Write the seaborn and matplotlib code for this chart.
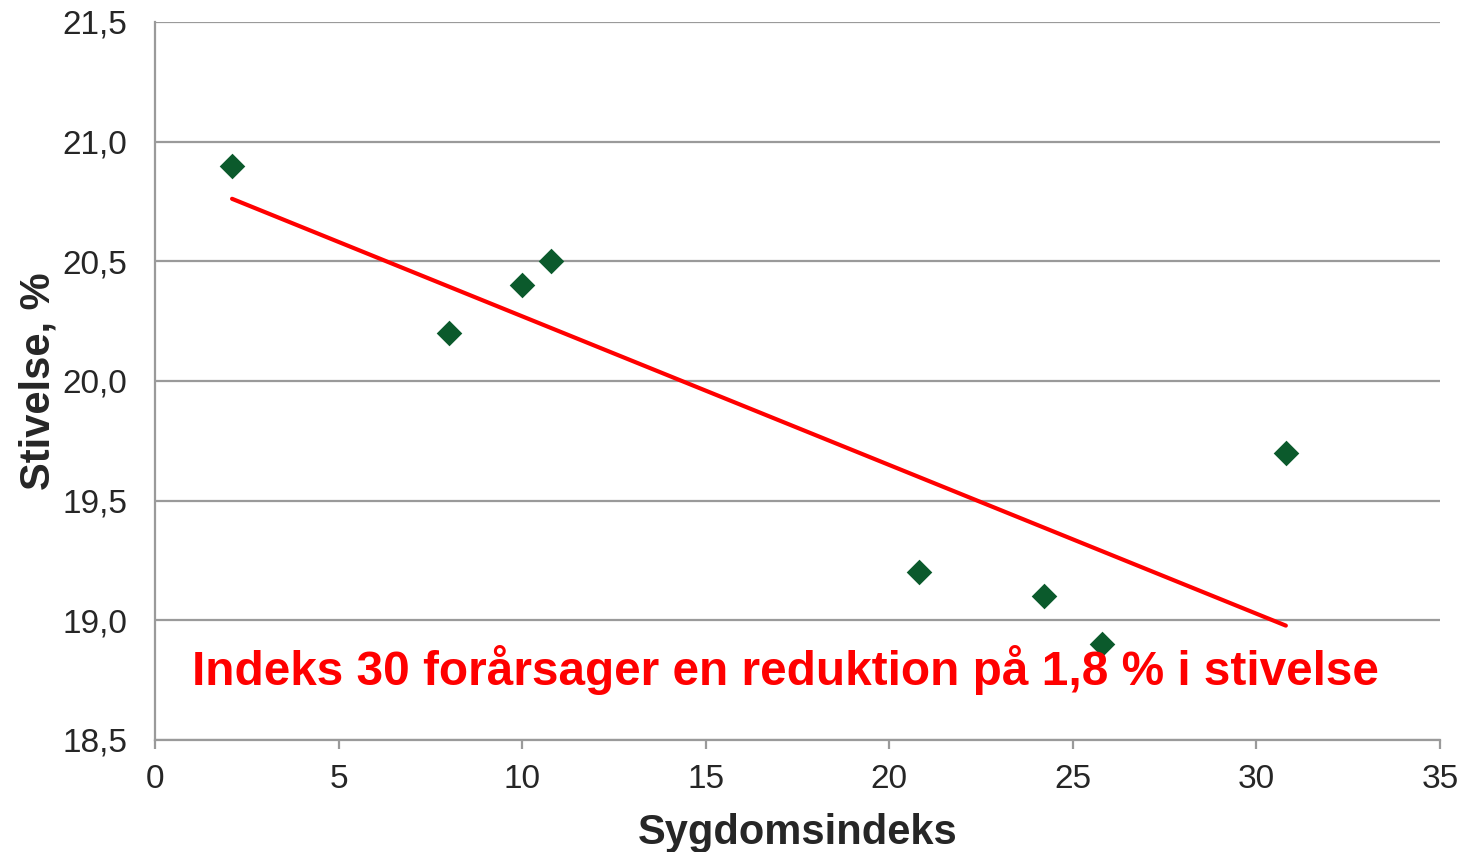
import matplotlib.pyplot as plt
from matplotlib.ticker import FuncFormatter
import seaborn as sns
import pandas as pd

# data
sygdomsindeks = [2.1, 8.0, 10.0, 10.8, 20.8, 24.2, 25.8, 30.8]
stivelse = [20.9, 20.2, 20.4, 20.5, 19.2, 19.1, 18.9, 19.7]
x_ticks = [0, 5, 10, 15, 20, 25, 30, 35]
y_ticks = [18.5, 19.0, 19.5, 20.0, 20.5, 21.0, 21.5]

df = pd.DataFrame({"x": sygdomsindeks, "y": stivelse})

sns.set_style("white")
plt.rcParams["font.family"] = ["Liberation Sans", "DejaVu Sans"]

GRID = "#9A9A9A"
GREEN = "#0B5A2C"
RED = "#FF0000"
TXT = "#262626"

fig = plt.figure(figsize=(14.66, 8.52), dpi=100, facecolor="white")
ax = fig.add_axes([0.1057, 0.1315, 0.8766, 0.8427])

# trend line fitted by seaborn, drawn only over the data range
sns.regplot(data=df, x="x", y="y", scatter=False, ci=None, truncate=True,
            color=RED, line_kws=dict(linewidth=3.0, solid_capstyle="round", zorder=2), ax=ax)
sns.scatterplot(data=df, x="x", y="y", marker="D", s=170, color=GREEN,
                edgecolor=GREEN, linewidth=0, zorder=3, ax=ax)

ax.set_xlim(0, 35)
ax.set_ylim(18.5, 21.5)
ax.set_xticks(x_ticks)
ax.set_yticks(y_ticks)
ax.yaxis.set_major_formatter(FuncFormatter(lambda v, p: f"{v:.1f}".replace(".", ",")))
ax.xaxis.set_major_formatter(FuncFormatter(lambda v, p: f"{v:.0f}"))

ax.grid(axis="y", color=GRID, linewidth=1.6)
ax.set_axisbelow(True)
for s in ["top", "right"]:
    ax.spines[s].set_visible(False)
for s in ["left", "bottom"]:
    ax.spines[s].set_color(GRID)
    ax.spines[s].set_linewidth(1.6)

ax.tick_params(axis="x", direction="out", length=6.5, width=1.6, color=GRID,
               labelsize=24, labelcolor=TXT, pad=11, bottom=True)
ax.tick_params(axis="y", length=0, labelsize=24, labelcolor=TXT, pad=20)

ax.set_xlabel("Sygdomsindeks", fontsize=30, fontweight="bold", color=TXT, labelpad=13)
ax.set_ylabel("Stivelse, %", fontsize=30, fontweight="bold", color=TXT, labelpad=3)

ax.text(1.0, 18.73, "Indeks 30 forårsager en reduktion på 1,8 % i stivelse",
        color=RED, fontsize=34.4, fontweight="bold", ha="left", va="baseline")

plt.savefig("out.png", dpi=100, facecolor="white")
